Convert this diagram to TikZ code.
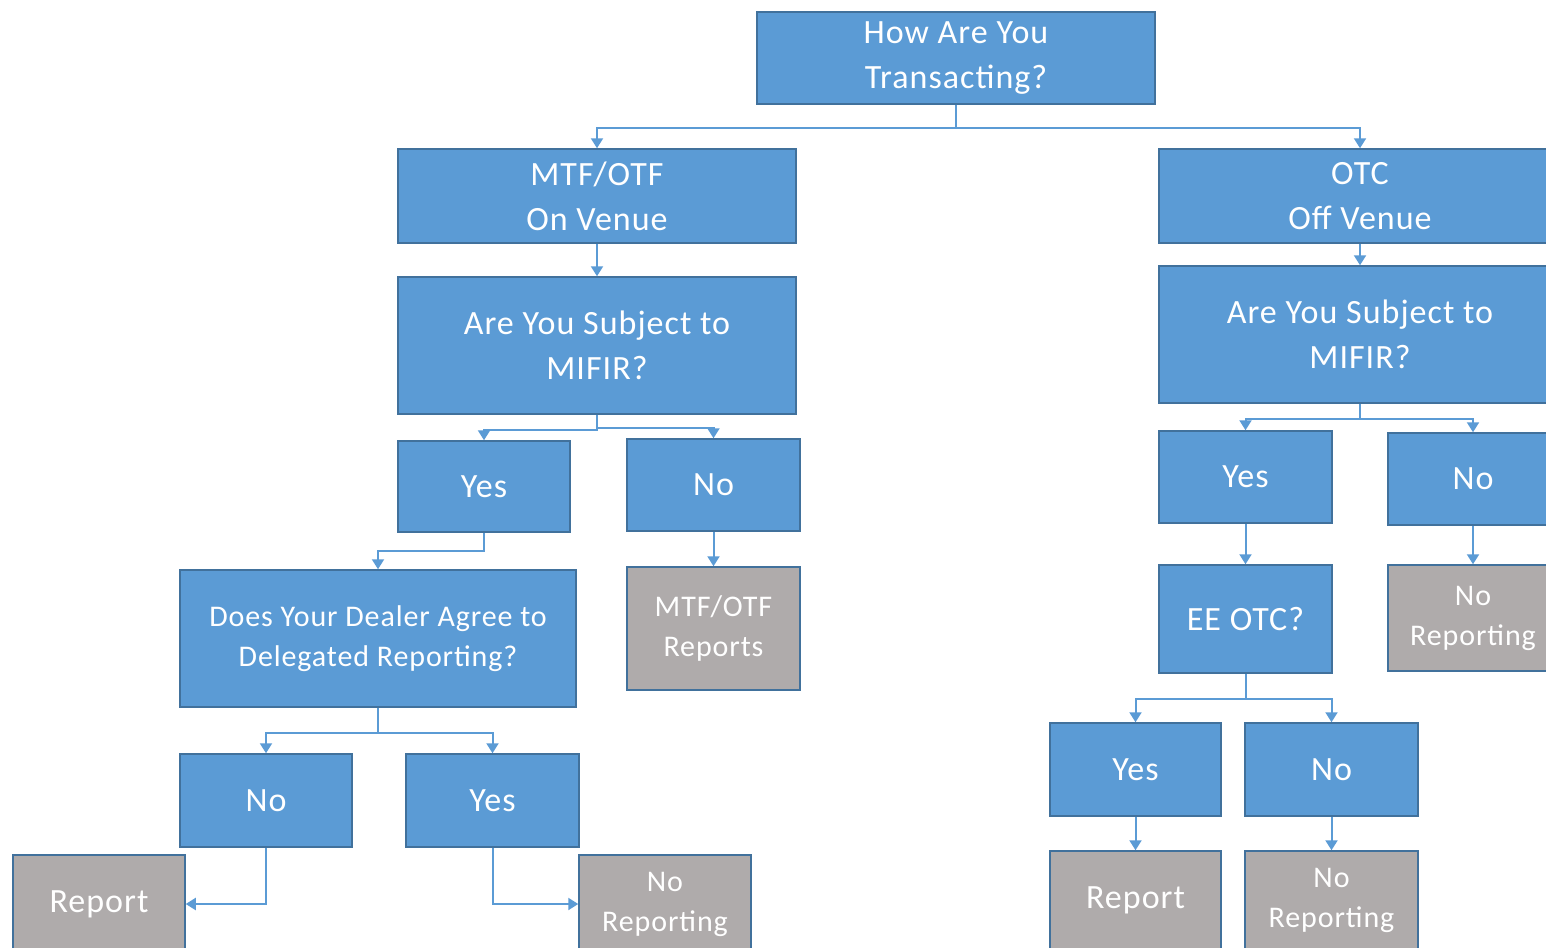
\documentclass[tikz,border=0pt]{standalone}
\usepackage{fontspec}
\setmainfont{Carlito}[LetterSpace=3]
\usetikzlibrary{arrows.meta,calc}
\definecolor{bfill}{HTML}{5B9BD5}
\definecolor{bedge}{HTML}{41719C}
\definecolor{gfill}{HTML}{AFABAB}
\definecolor{lcol}{HTML}{5B9BD5}
\tikzset{
  box/.style={draw=bedge, line width=1.5pt, fill=bfill, text=white, align=center, inner sep=0pt, font=\fontsize{34}{45}\selectfont},
  gbox/.style={box, fill=gfill},
  small/.style={font=\fontsize{30}{40}\selectfont},
  conn/.style={draw=lcol, line width=2pt, -{Triangle[width=12pt,length=10pt]}},
}
\begin{document}
\begin{tikzpicture}[x=1pt,y=-1pt]
\useasboundingbox (0,0) rectangle (1546,947);
\clip (0,0) rectangle (1546,947);
\fill[white] (0,0) rectangle (1546,947);
% nodes
\node[box, minimum width=398, minimum height=92] (top) at (956,58) {How Are You\\Transacting?};
\node[box, minimum width=398, minimum height=94] (mtf) at (597,196) {MTF/OTF\\On Venue};
\node[box, minimum width=402, minimum height=94] (otc) at (1360,196) {OTC\\Off Venue};
\node[box, minimum width=398, minimum height=137] (mifL) at (597,345.5) {Are You Subject to\\MIFIR?};
\node[box, minimum width=402, minimum height=137] (mifR) at (1360,334.5) {Are You Subject to\\MIFIR?};
\node[box, minimum width=172, minimum height=91] (yesL) at (484,486.5) {Yes};
\node[box, minimum width=173, minimum height=92] (noL) at (713.5,485) {No};
\node[box, minimum width=173, minimum height=92] (yesR) at (1245.5,477) {Yes};
\node[box, minimum width=170, minimum height=92] (noR) at (1473,479) {No};
\node[box, small, minimum width=396, minimum height=137] (dealer) at (378,638.5) {Does Your Dealer Agree to\\Delegated Reporting?};
\node[gbox, small, minimum width=173, minimum height=123] (mtfrep) at (713.5,628.5) {MTF/OTF\\Reports};
\node[box, minimum width=173, minimum height=108] (eeotc) at (1245.5,619) {EE OTC?};
\node[gbox, small, minimum width=170, minimum height=106] (norepA) at (1473,618) {No\\Reporting};
\node[box, minimum width=172, minimum height=93] (noB) at (266,800.5) {No};
\node[box, minimum width=173, minimum height=93] (yesB) at (492.5,800.5) {Yes};
\node[gbox, minimum width=172, minimum height=98] (repA) at (99,904) {Report};
\node[gbox, small, minimum width=172, minimum height=98] (norepB) at (665,904) {No\\Reporting};
\node[box, minimum width=171, minimum height=93] (yesC) at (1135.5,769.5) {Yes};
\node[box, minimum width=173, minimum height=93] (noC) at (1331.5,769.5) {No};
\node[gbox, minimum width=171, minimum height=98] (repB) at (1135.5,900) {Report};
\node[gbox, small, minimum width=173, minimum height=98] (norepC) at (1331.5,900) {No\\Reporting};
% connectors
\draw[conn] (top.south) -- ++(0,23) -| (mtf.north);
\draw[conn] (top.south) -- ++(0,23) -| (otc.north);
\draw[conn] (mtf.south) -- (mifL.north);
\draw[conn] (otc.south) -- (mifR.north);
\draw[conn] (mifL.south) -- ++(0,15) -| (yesL.north);
\draw[conn] (mifL.south) -- ++(0,13) -| (noL.north);
\draw[conn] (yesL.south) -- ++(0,18) -| (dealer.north);
\draw[conn] (noL.south) -- (mtfrep.north);
\draw[conn] (dealer.south) -- ++(0,25) -| (noB.north);
\draw[conn] (dealer.south) -- ++(0,25) -| (yesB.north);
\draw[conn] (noB.south) |- (repA.east);
\draw[conn] (yesB.south) |- (norepB.west);
\draw[conn] (mifR.south) -- ++(0,15) -| (yesR.north);
\draw[conn] (mifR.south) -- ++(0,15) -| (noR.north);
\draw[conn] (yesR.south) -- (eeotc.north);
\draw[conn] (noR.south) -- (norepA.north);
\draw[conn] (eeotc.south) -- ++(0,25) -| (yesC.north);
\draw[conn] (eeotc.south) -- ++(0,25) -| (noC.north);
\draw[conn] (yesC.south) -- (repB.north);
\draw[conn] (noC.south) -- (norepC.north);
\end{tikzpicture}
\end{document}
